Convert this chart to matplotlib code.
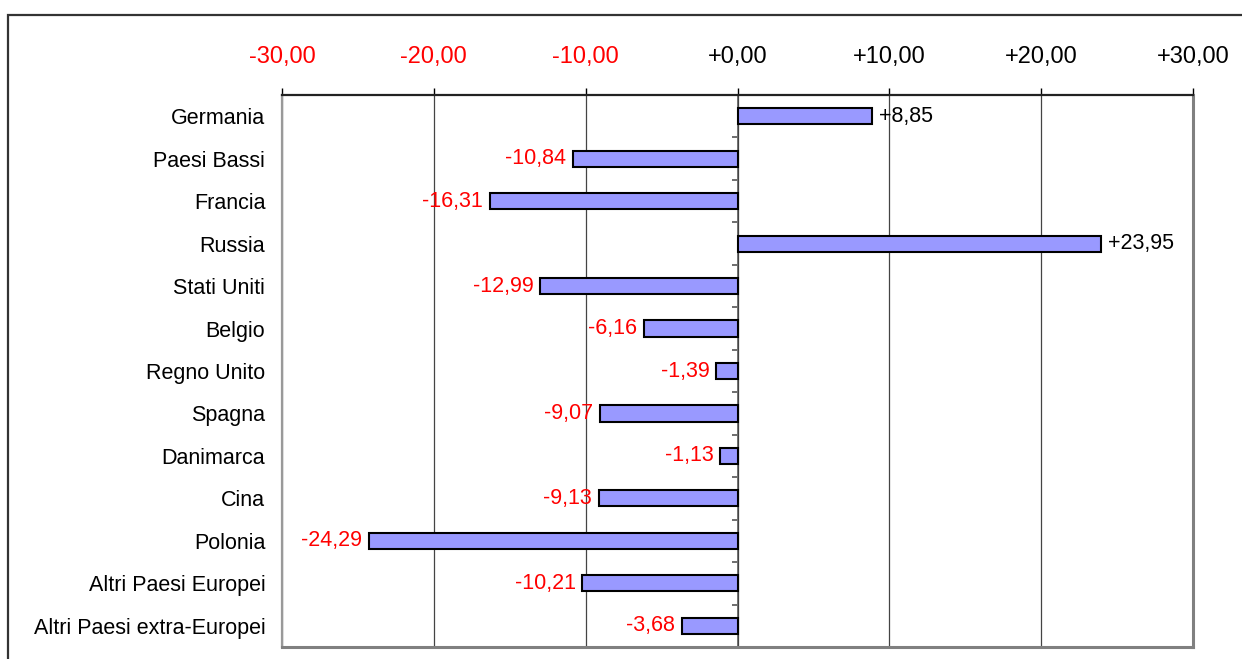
import matplotlib
matplotlib.use("Agg")
import matplotlib.pyplot as plt
from matplotlib.patches import Rectangle
import numpy as np

plt.rcParams['font.family'] = ['Liberation Sans', 'DejaVu Sans']

categories = ["Germania", "Paesi Bassi", "Francia", "Russia", "Stati Uniti",
              "Belgio", "Regno Unito", "Spagna", "Danimarca", "Cina",
              "Polonia", "Altri Paesi Europei", "Altri Paesi extra-Europei"]
values = [8.85, -10.84, -16.31, 23.95, -12.99, -6.16, -1.39, -9.07,
          -1.13, -9.13, -24.29, -10.21, -3.68]
xticks = [-30, -20, -10, 0, 10, 20, 30]

RED = '#FF0000'

def fmt(v):
    s = f"{v:+.2f}".replace('.', ',')
    return s

fig = plt.figure(figsize=(12.42, 6.59), dpi=100)
W, H = 1242, 659
ax = fig.add_axes([282 / W, (H - 647) / H, (1193 - 282) / W, (647 - 95) / H])

y = np.arange(len(categories))
bars = ax.barh(y, values, height=0.38, color='#9999FF', edgecolor='black',
               linewidth=1.5, zorder=3)

ax.set_xlim(-30, 30)
ax.set_ylim(len(categories) - 0.5, -0.5)

ax.xaxis.tick_top()
ax.set_xticks(xticks)
ax.set_xticklabels([fmt(v) for v in xticks])
for lab, v in zip(ax.get_xticklabels(), xticks):
    lab.set_color(RED if v < 0 else 'black')
ax.tick_params(axis='x', which='major', length=5, width=1, color='black',
               labelsize=17, pad=14.5, direction='out')

ax.set_yticks(y)
ax.set_yticklabels(categories)
ax.tick_params(axis='y', length=0, pad=12, labelsize=15.5)

ax.grid(axis='x', color='#444444', linewidth=0.9, zorder=1)
ax.set_axisbelow(True)

ax.spines['top'].set_color('#222222')
ax.spines['top'].set_linewidth(1.6)
ax.spines['left'].set_color('#999999')
ax.spines['left'].set_linewidth(1.6)
ax.spines['right'].set_color('#808080')
ax.spines['right'].set_linewidth(2.2)
ax.spines['bottom'].set_color('#808080')
ax.spines['bottom'].set_linewidth(2.2)

# zero line with category separator ticks
sec = ax.secondary_yaxis(0.5)
sec.set_yticks(np.arange(len(categories) + 1) - 0.5)
sec.set_yticklabels([])
sec.tick_params(axis='y', direction='in', length=4.5, width=1.2, color='#555555')
sec.spines['right'].set_color('#777777')
sec.spines['right'].set_linewidth(1.4)
sec.spines['left'].set_visible(False)

labels = ax.bar_label(bars, labels=[fmt(v) for v in values], padding=5,
                      fontsize=15.5)
for t, v in zip(labels, values):
    t.set_color(RED if v < 0 else 'black')

# outer frame (right and bottom edges lie outside the image)
fig.patches.append(Rectangle((8 / W, -10 / H), (1260 - 8) / W, (H - 15 + 10) / H,
                             transform=fig.transFigure, fill=False,
                             edgecolor='#333333', linewidth=1.6))

fig.savefig('out.png', dpi=100)
